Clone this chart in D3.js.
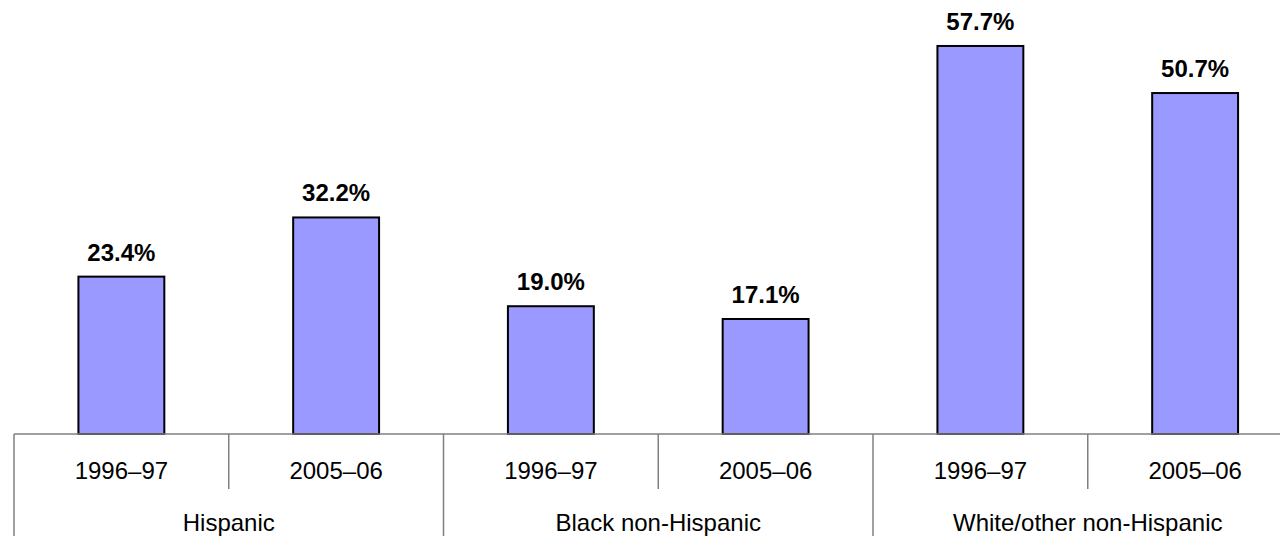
<!DOCTYPE html>
<html>
<head>
<meta charset="utf-8">
<script src="https://cdn.jsdelivr.net/npm/d3@7"></script>
<style>
  body { margin: 0; background: #fff; }
  svg { display: block; font-family: Arial, "Liberation Sans", sans-serif; }
</style>
</head>
<body>
<div id="chart"></div>
<script>
const groups = ["Hispanic", "Black non-Hispanic", "White/other non-Hispanic"]
const years = ["1996–97", "2005–06"]
const values = [
    [23.4, 32.2],
    [19.0, 17.1],
    [57.7, 50.7]
]

const width = 1280, height = 536
const left = 14, baseline = 434
const groupWidth = 429.5

const svg = d3.select("#chart").append("svg")
    .attr("width", width)
    .attr("height", height)

const x0 = d3.scaleBand()
    .domain(groups)
    .range([left, left + groupWidth * groups.length])
    .padding(0)

const x1 = d3.scaleBand()
    .domain(years)
    .range([0, groupWidth])
    .paddingInner(0.6)
    .paddingOuter(0.3)

const y = d3.scaleLinear()
    .domain([0, 60])
    .range([baseline, baseline - 60 * 6.725])

const data = []
groups.forEach(function(g, i) {
    years.forEach(function(yr, j) {
	data.push({ group: g, year: yr, value: values[i][j] })
    })
})

// bars
svg.append("g")
    .selectAll("rect")
    .data(data)
    .enter()
    .append("rect")
    .attr("x", d => x0(d.group) + x1(d.year))
    .attr("y", d => y(d.value))
    .attr("width", x1.bandwidth())
    .attr("height", d => y(0) - y(d.value))
    .attr("fill", "#9999ff")
    .attr("stroke", "#000")
    .attr("stroke-width", 2)

// value labels
svg.append("g")
    .selectAll("text")
    .data(data)
    .enter()
    .append("text")
    .attr("x", d => x0(d.group) + x1(d.year) + x1.bandwidth() / 2)
    .attr("y", d => y(d.value) - 16)
    .attr("text-anchor", "middle")
    .attr("font-size", 24)
    .attr("font-weight", "bold")
    .attr("fill", "#000")
    .text(d => d.value.toFixed(1) + "%")

// category table
const grid = svg.append("g")
    .attr("stroke", "#808080")
    .attr("stroke-width", 1.5)
grid.append("line")
    .attr("x1", left).attr("x2", width)
    .attr("y1", baseline).attr("y2", baseline)
groups.forEach(function(g) {
    grid.append("line")
	.attr("x1", x0(g)).attr("x2", x0(g))
	.attr("y1", baseline).attr("y2", height)
    grid.append("line")
	.attr("x1", x0(g) + groupWidth / 2).attr("x2", x0(g) + groupWidth / 2)
	.attr("y1", baseline).attr("y2", 489)
})

const labels = svg.append("g")
    .attr("font-size", 24)
    .attr("fill", "#000")
    .attr("text-anchor", "middle")
labels.selectAll(".year")
    .data(data)
    .enter()
    .append("text")
    .attr("class", "year")
    .attr("x", d => x0(d.group) + x1(d.year) + x1.bandwidth() / 2)
    .attr("y", 479)
    .text(d => d.year)
labels.selectAll(".group")
    .data(groups)
    .enter()
    .append("text")
    .attr("class", "group")
    .attr("x", d => x0(d) + groupWidth / 2)
    .attr("y", 531)
    .text(d => d)
</script>
</body>
</html>
